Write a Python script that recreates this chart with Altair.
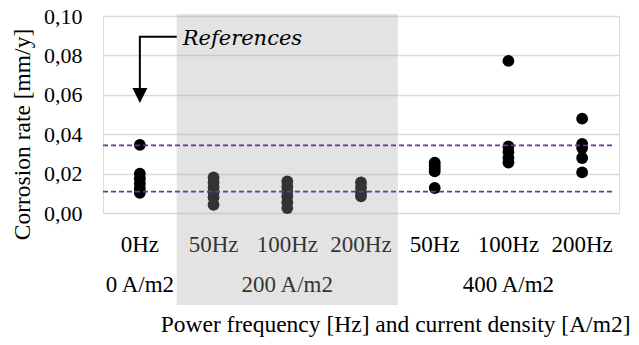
import altair as alt
import pandas as pd

# ---- data ----
freq_labels = ["0Hz", "50Hz", "100Hz", "200Hz", "50Hz", "100Hz", "200Hz"]
density_labels = ["0 A/m2", "200 A/m2", "400 A/m2"]
density_group_sizes = [1, 3, 3]

rates = [
    [0.0346, 0.0200, 0.0175, 0.0150, 0.0125, 0.0103],      # 0Hz, 0 A/m2
    [0.0180, 0.0155, 0.0130, 0.0105, 0.0080, 0.0042],      # 50Hz, 200 A/m2
    [0.0160, 0.0135, 0.0110, 0.0085, 0.0055, 0.0025],      # 100Hz, 200 A/m2
    [0.0155, 0.0130, 0.0105, 0.0085],                      # 200Hz, 200 A/m2
    [0.0256, 0.0240, 0.0225, 0.0211, 0.0127],              # 50Hz, 400 A/m2
    [0.0772, 0.0338, 0.0310, 0.0280, 0.0256],              # 100Hz, 400 A/m2
    [0.0479, 0.0351, 0.0330, 0.0279, 0.0206],              # 200Hz, 400 A/m2
]
reference_levels = [0.0343, 0.0109]
annot_y_top = 0.0895
annot_y_head = 0.0597
annot_y_line_end = 0.0635
annot_text = "References"

# ---- tables ----
pts = pd.DataFrame(
    [{"x": i + 0.5, "y": v} for i, vals in enumerate(rates) for v in vals]
)
row1 = pd.DataFrame({"x": [i + 0.5 for i in range(len(freq_labels))], "label": freq_labels})
starts = [sum(density_group_sizes[:k]) for k in range(len(density_group_sizes))]
row2 = pd.DataFrame({
    "x": [s + n / 2 for s, n in zip(starts, density_group_sizes)],
    "label": density_labels,
})
band = pd.DataFrame({"x": [starts[1]], "x2": [starts[1] + density_group_sizes[1]]})
refs = pd.DataFrame({"y": reference_levels})
arrow = pd.DataFrame({
    "x": [1.0, 0.5, 0.5],
    "y": [annot_y_top, annot_y_top, annot_y_line_end],
    "o": [0, 1, 2],
})
head = pd.DataFrame({"x": [0.5], "y": [annot_y_head]})
ref_txt = pd.DataFrame({"x": [1.0], "y": [annot_y_top], "label": [annot_text]})

SERIF = "Liberation Serif"
FS = 22
FS_X = 23
FS_T = 23.5
W, H = 516, 197

xscale = alt.Scale(domain=[0, 7], nice=False, zero=False)
yscale = alt.Scale(domain=[0, 0.1], nice=False)

xaxis = alt.Axis(
    labels=False, ticks=False, domain=False, grid=False,
    title="Power frequency [Hz] and current density [A/m2]",
    titleFont=SERIF, titleFontSize=FS_T, titleFontWeight="normal", titleColor="#000",
    titleX=527, titleY=118, titleAlign="right", titleBaseline="alphabetic",
)
yaxis = alt.Axis(
    values=[0, 0.02, 0.04, 0.06, 0.08, 0.1],
    labelExpr="replace(format(datum.value, '.2f'), '.', ',')",
    labelFont=SERIF, labelFontSize=FS, labelColor="#000", labelPadding=21,
    ticks=False, tickSize=0, domain=False,
    grid=True, gridColor="#d9d9d9", gridWidth=1.5,
    title="Corrosion rate [mm/y]",
    titleFont=SERIF, titleFontSize=FS_T, titleFontWeight="normal", titleColor="#000",
    titleAngle=-90, titleX=-81, titleY=118, titleAlign="center", titleBaseline="middle",
)

X = alt.X("x:Q", scale=xscale, axis=xaxis)
Y = alt.Y("y:Q", scale=yscale, axis=yaxis)

points = alt.Chart(pts).mark_circle(size=140, color="#000", opacity=1).encode(x=X, y=Y)

lab1 = alt.Chart(row1).mark_text(
    font=SERIF, fontSize=FS_X, color="#000", align="center", baseline="alphabetic"
).encode(x=X, y=alt.value(235.7), text="label:N")

lab2 = alt.Chart(row2).mark_text(
    font=SERIF, fontSize=FS_X, color="#000", align="center", baseline="alphabetic"
).encode(x=X, y=alt.value(275.7), text="label:N")

shade = alt.Chart(band).mark_rect(color="#a5a5a5", opacity=0.31).encode(
    x=X, x2="x2:Q", y=alt.value(-2), y2=alt.value(289)
)

rules = alt.Chart(refs).mark_rule(
    color="#7030a0", strokeWidth=1.8, strokeDash=[5, 3]
).encode(y=Y, x=alt.value(0), x2=alt.value(510))

arrow_line = alt.Chart(arrow).mark_line(color="#000", strokeWidth=2).encode(
    x=X, y=Y, order="o:Q"
)
arrow_head = alt.Chart(head).mark_point(
    shape="M-1,-1L1,-1L0,1Z", size=225, filled=True, color="#000", opacity=1
).encode(x=X, y=Y)

ref_label = alt.Chart(ref_txt).mark_text(
    font="DejaVu Serif", fontStyle="italic", fontSize=21, color="#000",
    align="left", baseline="alphabetic", dx=6, dy=8,
).encode(x=X, y=Y, text="label:N")

chart = alt.layer(
    points, lab1, lab2, shade, rules, arrow_line, arrow_head, ref_label
).properties(
    width=W, height=H,
    autosize=alt.AutoSizeParams(type="none"),
    padding={"left": 95, "top": 8, "right": 12, "bottom": 124},
).configure_view(stroke=None).configure(background="white")

chart.save("out.html", embed_options={"renderer": "svg", "actions": False})
